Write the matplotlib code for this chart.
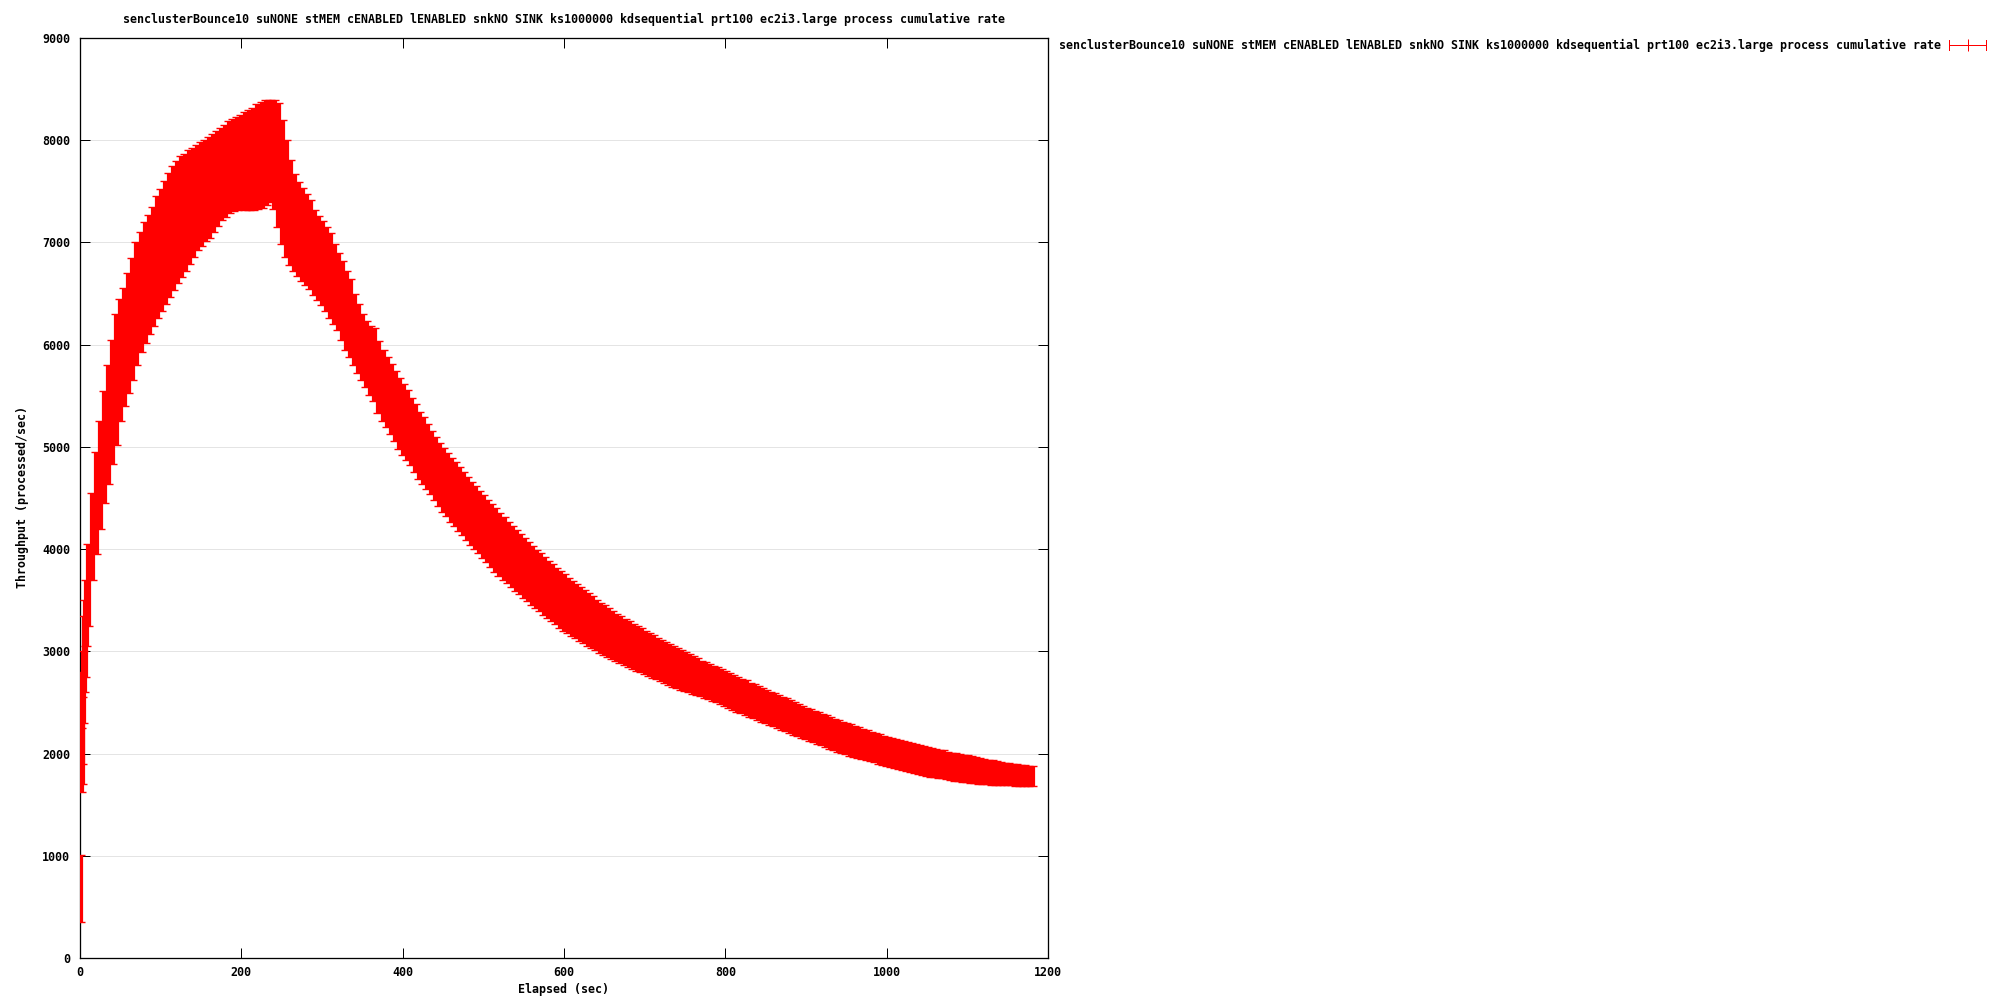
import numpy as np
import matplotlib
matplotlib.use("Agg")
from matplotlib import pyplot as plt
from matplotlib.lines import Line2D

TITLE = ("senclusterBounce10 suNONE stMEM cENABLED lENABLED snkNO SINK "
         "ks1000000 kdsequential prt100 ec2i3.large process cumulative rate")

# sample times (sec)
elapsed = [0, 1, 2, 3, 4, 5, 6, 8, 10] + list(range(15, 1185, 5))

# upper end of each error bar (processed/sec)
rate_hi = [
    1010, 2250, 2550, 2800, 3000, 3350, 3500, 3700, 4050,
    4550, 4950, 5250, 5550, 5800, 6050, 6300, 6450, 6550, 6700,   # 15-60
    6850, 7000, 7100, 7200, 7270, 7350, 7450, 7520, 7600, 7680,   # 65-110
    7750, 7800, 7850, 7870, 7900, 7920, 7950, 7980, 8000, 8030,   # 115-160
    8060, 8090, 8120, 8150, 8190, 8210, 8230, 8250, 8280, 8300,   # 165-210
    8320, 8350, 8370, 8395, 8395, 8390, 8360, 8200, 8000, 7810,   # 215-260
    7670, 7590, 7530, 7470, 7420, 7320, 7260, 7210, 7150, 7090,   # 265-310
    6980, 6900, 6820, 6720, 6640, 6500, 6400, 6300, 6230, 6180,   # 315-360
    6160, 6040, 5950, 5880, 5810, 5740, 5670, 5620, 5560, 5480,   # 365-410
    5420, 5340, 5290, 5220, 5160, 5100, 5040, 4990, 4940, 4890,   # 415-460
    4850, 4800, 4750, 4710, 4660, 4620, 4570, 4530, 4480, 4440,   # 465-510
    4400, 4355, 4310, 4270, 4230, 4190, 4150, 4110, 4070, 4030,   # 515-560
    3990, 3960, 3920, 3880, 3850, 3820, 3790, 3755, 3720, 3690,   # 565-610
    3660, 3630, 3600, 3570, 3540, 3505, 3475, 3450, 3420, 3395,   # 615-660
    3370, 3345, 3320, 3295, 3270, 3245, 3225, 3200, 3180, 3155,   # 665-710
    3135, 3110, 3090, 3070, 3050, 3030, 3010, 2990, 2970, 2950,   # 715-760
    2930, 2910, 2895, 2875, 2860, 2845, 2825, 2810, 2785, 2765,   # 765-810
    2750, 2730, 2715, 2695, 2680, 2660, 2645, 2620, 2605, 2590,   # 815-860
    2570, 2555, 2540, 2520, 2505, 2480, 2465, 2450, 2435, 2420,   # 865-910
    2405, 2390, 2375, 2355, 2340, 2325, 2310, 2300, 2285, 2270,   # 915-960
    2255, 2240, 2227, 2215, 2200, 2190, 2175, 2165, 2150, 2140,   # 965-1010
    2130, 2120, 2110, 2100, 2090, 2080, 2070, 2060, 2050, 2045,   # 1015-1060
    2035, 2030, 2020, 2010, 2005, 1995, 1990, 1983, 1975, 1965,   # 1065-1110
    1960, 1950, 1940, 1935, 1925, 1917, 1910, 1905, 1900, 1895,   # 1115-1160
    1890, 1885, 1880, 1875,                                       # 1165-1180
]

# lower end of each error bar (processed/sec)
rate_lo = [
    357, 1620, 1700, 1900, 2300, 2600, 2750, 3050, 3250,
    3700, 3950, 4200, 4450, 4640, 4830, 5020, 5250, 5400, 5530,   # 15-60
    5650, 5800, 5930, 6020, 6100, 6180, 6260, 6330, 6400, 6470,   # 65-110
    6530, 6600, 6660, 6720, 6790, 6860, 6930, 6970, 7010, 7040,   # 115-160
    7100, 7160, 7220, 7250, 7290, 7310, 7320, 7325, 7320, 7320,   # 165-210
    7320, 7325, 7340, 7370, 7400, 7330, 7150, 6980, 6860, 6780,   # 215-260
    6720, 6670, 6620, 6580, 6540, 6490, 6440, 6390, 6330, 6260,   # 265-310
    6200, 6140, 6050, 5950, 5880, 5800, 5720, 5650, 5590, 5510,   # 315-360
    5450, 5330, 5250, 5190, 5130, 5060, 4980, 4920, 4870, 4820,   # 365-410
    4750, 4690, 4640, 4590, 4540, 4480, 4420, 4360, 4320, 4270,   # 415-460
    4230, 4180, 4140, 4090, 4045, 4000, 3960, 3915, 3870, 3825,   # 465-510
    3780, 3735, 3700, 3665, 3630, 3595, 3560, 3525, 3490, 3455,   # 515-560
    3425, 3390, 3360, 3330, 3300, 3265, 3230, 3200, 3175, 3150,   # 565-610
    3130, 3105, 3080, 3055, 3035, 3010, 2985, 2965, 2945, 2925,   # 615-660
    2905, 2885, 2865, 2845, 2830, 2810, 2795, 2775, 2760, 2740,   # 665-710
    2725, 2705, 2690, 2670, 2655, 2640, 2625, 2610, 2600, 2585,   # 715-760
    2575, 2560, 2545, 2530, 2515, 2500, 2485, 2470, 2445, 2425,   # 765-810
    2410, 2395, 2380, 2360, 2345, 2330, 2310, 2295, 2280, 2265,   # 815-860
    2250, 2235, 2220, 2200, 2185, 2170, 2155, 2140, 2125, 2110,   # 865-910
    2095, 2080, 2065, 2045, 2030, 2020, 2005, 1995, 1980, 1970,   # 915-960
    1960, 1945, 1935, 1925, 1915, 1900, 1890, 1880, 1870, 1860,   # 965-1010
    1845, 1835, 1825, 1815, 1810, 1800, 1790, 1780, 1775, 1770,   # 1015-1060
    1765, 1760, 1750, 1745, 1735, 1730, 1725, 1720, 1715, 1710,   # 1065-1110
    1705, 1700, 1698, 1695, 1692, 1690, 1690, 1688, 1688, 1687,   # 1115-1160
    1687, 1686, 1686, 1686,                                       # 1165-1180
]

assert len(elapsed) == len(rate_hi) == len(rate_lo)

x_ticks = [0, 200, 400, 600, 800, 1000, 1200]
y_ticks = [0, 1000, 2000, 3000, 4000, 5000, 6000, 7000, 8000, 9000]

FONT = dict(family="DejaVu Sans Mono", weight="bold", size=8.4)
RED = "#ff0000"
PX = 0.72  # one pixel at 100 dpi, in points

fig = plt.figure(figsize=(20, 10), dpi=100)
ax = fig.add_axes([0.04, 0.042, 0.484, 0.92])

lo = np.array(rate_lo, dtype=float)
hi = np.array(rate_hi, dtype=float)
ax.errorbar(elapsed, lo, yerr=[np.zeros_like(lo), hi - lo], fmt="none",
            ecolor=RED, elinewidth=5.2 * PX, capsize=3.6, capthick=1.4 * PX,
            zorder=3)

ax.set_xlim(0, 1200)
ax.set_ylim(0, 9000)
ax.set_xticks(x_ticks)
ax.set_yticks(y_ticks)
ax.tick_params(direction="in", length=10 * PX, width=PX, top=True, right=True,
               labelsize=FONT["size"])
ax.tick_params(axis="y", pad=7)
ax.tick_params(axis="x", pad=6)
for lab in ax.get_xticklabels() + ax.get_yticklabels():
    lab.set_family(FONT["family"])
    lab.set_weight("bold")
for s in ax.spines.values():
    s.set_linewidth(1.3 * PX)
ax.yaxis.grid(True, color="#e4e4e4", linewidth=PX, zorder=0)
ax.set_axisbelow(True)

fig.text(0.282, 0.981, TITLE, ha="center", va="center", **FONT)
fig.text(0.282, 0.010, "Elapsed (sec)", ha="center", va="center", **FONT)
fig.text(0.0115, 0.503, "Throughput (processed/sec)", rotation=90,
         ha="center", va="center", **FONT)

# key, gnuplot style: text then the |-+-| sample
fig.text(0.9705, 0.955, TITLE, ha="right", va="center", **FONT)
ky = 0.955
kx0, kx1 = 0.9745, 0.993
kw = dict(color=RED, linewidth=PX, transform=fig.transFigure)
fig.add_artist(Line2D([kx0, kx1], [ky, ky], **kw))
fig.add_artist(Line2D([kx0, kx0], [ky - 0.005, ky + 0.005], **kw))
fig.add_artist(Line2D([kx1, kx1], [ky - 0.005, ky + 0.005], **kw))
fig.add_artist(Line2D([(kx0 + kx1) / 2], [ky], marker="+", markersize=8,
                      markeredgewidth=PX, color=RED, transform=fig.transFigure))

fig.savefig("out.png", dpi=100)
